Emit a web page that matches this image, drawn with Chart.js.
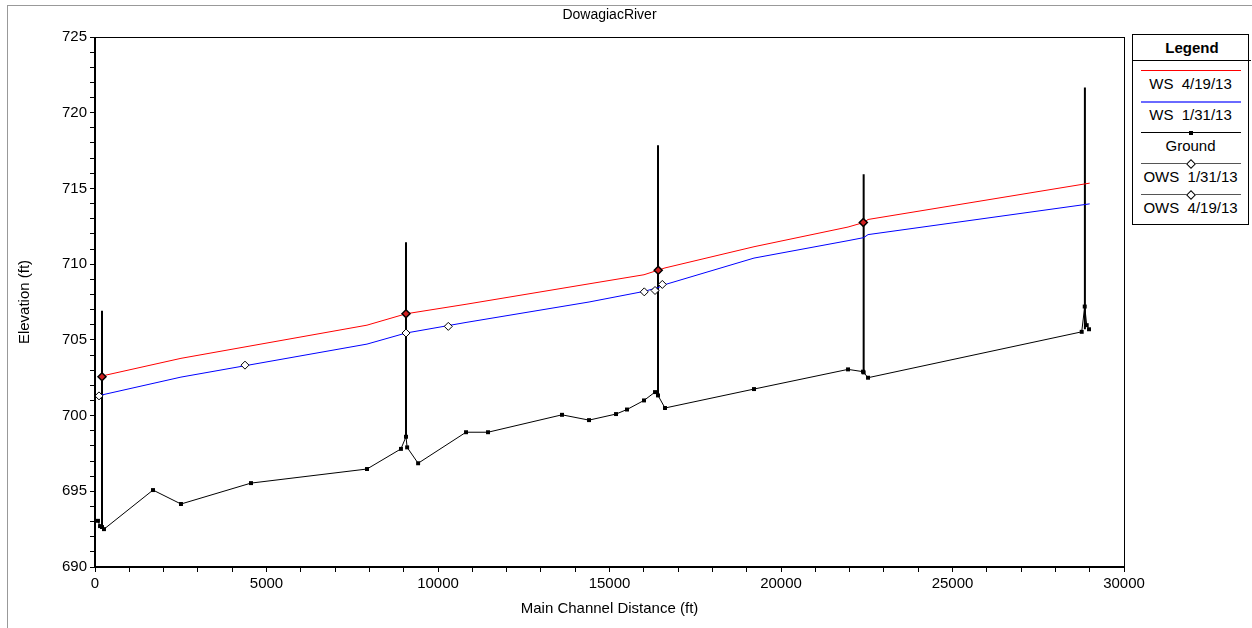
<!DOCTYPE html>
<html>
<head>
<meta charset="utf-8">
<script src="https://cdn.jsdelivr.net/npm/chart.js@4.4.1/dist/chart.umd.min.js"></script>
<style>
  html, body { margin: 0; padding: 0; background: #fff; overflow: hidden; }
  #wrap { position: relative; width: 1252px; height: 628px; }
  #frame { position: absolute; left: 7px; top: 5px; width: 1260px; height: 700px; border: 1px solid #999; }
  #legend { position: absolute; left: 1132px; top: 34px; width: 115px; height: 189px; border: 1px solid #000; background: #fff;
            font-family: "Liberation Sans", Arial, sans-serif; color: #000; }
  #legend .head { height: 25px; line-height: 26px; text-align: center; font-weight: bold; font-size: 15px; border-bottom: 1px solid #000; margin-right: -3px; }
  #legend .item { position: relative; height: 31px; }
  #legend .line { position: absolute; left: 8px; width: 100px; top: 9px; }
  #legend .mark { position: absolute; left: 50%; top: 50%; transform: translate(-50%, -50%); }
  #legend .txt { position: absolute; left: 0; right: 0; top: 14px; line-height: 17px; text-align: center; font-size: 15px; white-space: pre; }
</style>
</head>
<body>
<div id="wrap">
  <canvas id="profileChart" width="1252" height="628"></canvas>
  <div id="frame"></div>
  <div id="legend"><div class="head">Legend</div></div>
</div>
<script>
// ground profile (station ft, elevation ft)
const groundX = [87, 146, 204, 262, 1691, 2507, 4548, 7930, 8920, 9067, 9100, 9420, 10817, 11458, 13615, 14403, 15190, 15510, 16006, 16327, 16414, 16618, 19213, 21954, 22391, 22410, 22537, 28767, 28855, 28913, 28980];
const groundY = [693.05, 692.7, 692.64, 692.5, 695.08, 694.16, 695.54, 696.47, 697.8, 698.6, 697.9, 696.85, 698.9, 698.9, 700.05, 699.7, 700.1, 700.4, 701.0, 701.55, 701.33, 700.5, 701.75, 703.05, 702.9, 702.85, 702.5, 705.53, 707.2, 705.97, 705.7];

// vertical structure lines
const structX = [204, 9067, 16414, 22410, 28860];
const structLow = [692.64, 698.6, 701.33, 702.9, 705.7];
const structHigh = [706.92, 711.45, 717.85, 715.94, 721.66];

// water surface profiles
const wsX = [175, 2507, 7930, 9067, 10817, 14403, 16006, 16414, 16618, 19213, 21954, 22410, 22537, 29000];
const ws0419 = [702.6, 703.78, 705.97, 706.72, 707.35, 708.7, 709.3, 709.6, 709.75, 711.15, 712.45, 712.75, 712.95, 715.35];
const ws0131 = [701.35, 702.54, 704.72, 705.45, 706.15, 707.5, 708.2, 708.45, 708.65, 710.4, 711.55, 711.75, 711.95, 713.98];

// observed water surface
const ows0131X = [117, 4373, 9067, 10300, 16014, 16327, 16540];
const ows0131Y = [701.3, 703.33, 705.45, 705.89, 708.17, 708.26, 708.66];
const ows0419X = [204, 9067, 16420, 22400];
const ows0419Y = [702.56, 706.72, 709.6, 712.75];

const xTicks = [0, 5000, 10000, 15000, 20000, 25000, 30000];
const yTicks = [690, 695, 700, 705, 710, 715, 720, 725];

const pts = (xs, ys) => xs.map((x, i) => ({ x: x, y: ys[i] }));
const structPts = [];
structX.forEach((x, i) => {
    structPts.push({ x: x, y: structLow[i] }, { x: x, y: structHigh[i] }, { x: x, y: null });
});

const FONT = '"Liberation Sans", Arial, sans-serif';

const plotBox = {
    id: 'plotBox',
    afterDraw(chart) {
        const a = chart.chartArea, c = chart.ctx;
        c.save();
        c.strokeStyle = '#000';
        c.lineWidth = 1;
        c.strokeRect(a.left + 0.5, a.top + 0.5, a.right - a.left, a.bottom - a.top);
        c.lineWidth = 2;
        c.beginPath();
        c.moveTo(a.left, a.top);
        c.lineTo(a.left, a.bottom);
        c.lineTo(a.right, a.bottom);
        c.stroke();
        c.restore();
    }
};

const ctx = document.getElementById('profileChart').getContext('2d');
const chart = new Chart(ctx, {
    type: 'scatter',
    data: {
        datasets: [
            {
                label: 'OWS  4/19/13',
                data: pts(ows0419X, ows0419Y),
                showLine: false,
                pointStyle: 'rectRot',
                pointRadius: 4,
                borderColor: '#000',
                borderWidth: 1.5,
                backgroundColor: '#d02020',
                order: 0
            },
            {
                label: 'OWS  1/31/13',
                data: pts(ows0131X, ows0131Y),
                showLine: false,
                pointStyle: 'rectRot',
                pointRadius: 4,
                borderColor: '#000',
                borderWidth: 1,
                backgroundColor: '#fff',
                order: 1
            },
            {
                label: 'Ground',
                data: pts(groundX, groundY),
                showLine: true,
                borderColor: '#000',
                borderWidth: 1,
                pointStyle: 'rect',
                pointRadius: 2.8,
                pointBackgroundColor: '#000',
                pointBorderWidth: 0,
                tension: 0,
                order: 4
            },
            {
                label: 'Structures',
                data: structPts,
                showLine: true,
                spanGaps: false,
                borderColor: '#000',
                borderWidth: 2,
                pointRadius: 0,
                order: 5
            },
            {
                label: 'WS  1/31/13',
                data: pts(wsX, ws0131),
                showLine: true,
                borderColor: '#0000ff',
                borderWidth: 1,
                pointRadius: 0,
                order: 3
            },
            {
                label: 'WS  4/19/13',
                data: pts(wsX, ws0419),
                showLine: true,
                borderColor: '#ff0000',
                borderWidth: 1,
                pointRadius: 0,
                order: 2
            }
        ]
    },
    options: {
        responsive: false,
        animation: false,
        events: [],
        layout: { padding: { left: 0, top: 0, right: 128, bottom: 0 } },
        plugins: {
            legend: { display: false },
            tooltip: { enabled: false },
            title: {
                display: true,
                text: 'DowagiacRiver',
                fullSize: false,
                color: '#000',
                font: { family: FONT, size: 14, weight: 'normal' },
                padding: { top: 7, bottom: 13.2 }
            }
        },
        scales: {
            x: {
                type: 'linear',
                min: 0,
                max: 30000,
                afterFit: (s) => { s.height = 61; },
                afterBuildTicks: (s) => {
                    const t = [];
                    for (let v = 0; v <= 30000; v += 1000) t.push({ value: v });
                    s.ticks = t;
                },
                ticks: {
                    autoSkip: false,
                    maxRotation: 0,
                    color: '#000',
                    padding: 3,
                    font: { family: FONT, size: 15 },
                    callback: (v) => xTicks.includes(v) ? String(v) : ''
                },
                grid: { drawOnChartArea: false, color: '#000', tickLength: 5 },
                border: { display: false },
                title: {
                    display: true,
                    text: 'Main Channel Distance (ft)',
                    color: '#000',
                    font: { family: FONT, size: 15 },
                    padding: { top: 0, bottom: 10 }
                }
            },
            y: {
                type: 'linear',
                min: 690,
                max: 725,
                afterFit: (s) => { s.width = 95; },
                afterBuildTicks: (s) => {
                    const t = [];
                    for (let v = 690; v <= 725; v += 1) t.push({ value: v });
                    s.ticks = t;
                },
                ticks: {
                    autoSkip: false,
                    color: '#000',
                    padding: 3,
                    font: { family: FONT, size: 15 },
                    callback: (v) => yTicks.includes(v) ? String(v) : ''
                },
                grid: { drawOnChartArea: false, color: '#000', tickLength: 5 },
                border: { display: false },
                title: {
                    display: true,
                    text: 'Elevation (ft)',
                    color: '#000',
                    font: { family: FONT, size: 15 },
                    padding: { top: 16, bottom: 0 }
                }
            }
        }
    },
    plugins: [plotBox]
});

// legend box built from the datasets
const legendOrder = ['WS  4/19/13', 'WS  1/31/13', 'Ground', 'OWS  1/31/13', 'OWS  4/19/13'];
const legendEl = document.getElementById('legend');
legendOrder.forEach((name) => {
    const ds = chart.data.datasets.find((d) => d.label === name);
    const item = document.createElement('div');
    item.className = 'item';
    const line = document.createElement('div');
    line.className = 'line';
    let lineColor = ds.borderColor, lineH = 1;
    if (name.startsWith('WS  1')) { lineColor = '#6a6aff'; lineH = 2; }
    if (name.startsWith('OWS')) lineColor = '#555';
    line.style.height = lineH + 'px';
    line.style.background = lineColor;
    const mark = document.createElement('div');
    mark.className = 'mark';
    if (name === 'Ground') {
        mark.style.cssText += 'width:4px;height:4px;background:#000;';
    } else if (name.startsWith('OWS')) {
        mark.style.cssText += 'width:5px;height:5px;background:#fff;border:1px solid #000;transform:translate(-50%,-50%) rotate(45deg);';
    }
    if (mark.style.cssText) line.appendChild(mark);
    const txt = document.createElement('div');
    txt.className = 'txt';
    txt.textContent = name;
    item.appendChild(line);
    item.appendChild(txt);
    legendEl.appendChild(item);
});
</script>
</body>
</html>
